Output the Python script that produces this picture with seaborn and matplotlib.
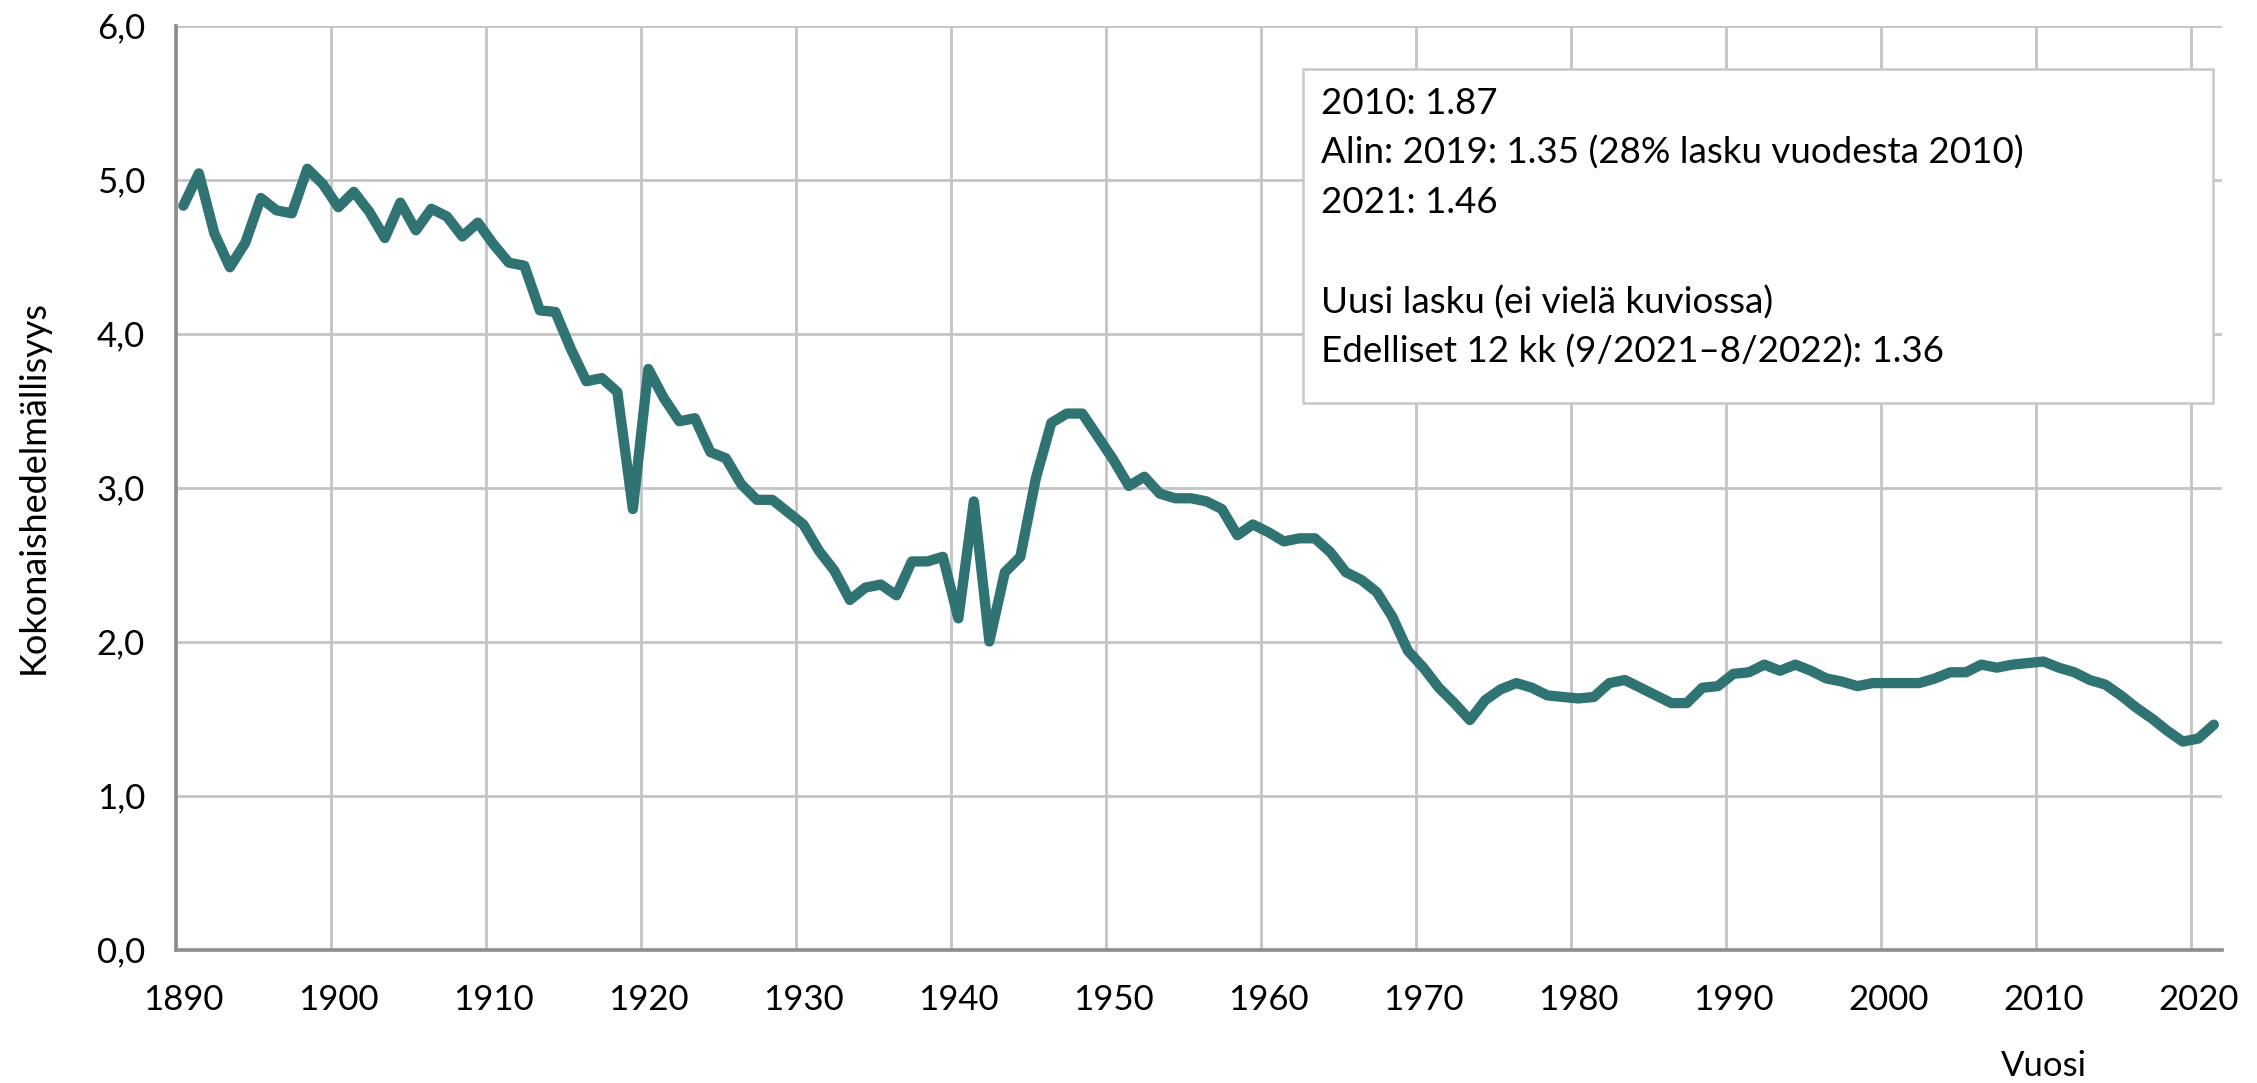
import numpy as np
import pandas as pd
import matplotlib
matplotlib.use("Agg")
import matplotlib.pyplot as plt
import seaborn as sns
from matplotlib.patches import Rectangle

# ---- data ----
start_year = 1890
tfr_1890s = [4.83, 5.04, 4.65, 4.43, 4.59, 4.88, 4.80, 4.78, 5.07, 4.97]
tfr_1900s = [4.82, 4.92, 4.79, 4.62, 4.85, 4.67, 4.81, 4.76, 4.63, 4.72]
tfr_1910s = [4.58, 4.46, 4.44, 4.15, 4.14, 3.90, 3.69, 3.71, 3.62, 2.86]
tfr_1920s = [3.77, 3.58, 3.43, 3.45, 3.23, 3.19, 3.02, 2.92, 2.92, 2.84]
tfr_1930s = [2.76, 2.59, 2.46, 2.27, 2.35, 2.37, 2.30, 2.52, 2.52, 2.55]
tfr_1940s = [2.15, 2.91, 2.00, 2.45, 2.55, 3.06, 3.42, 3.48, 3.48, 3.33]
tfr_1950s = [3.18, 3.01, 3.07, 2.96, 2.93, 2.93, 2.91, 2.86, 2.69, 2.76]
tfr_1960s = [2.71, 2.65, 2.67, 2.67, 2.58, 2.45, 2.40, 2.32, 2.16, 1.94]
tfr_1970s = [1.83, 1.70, 1.60, 1.49, 1.62, 1.69, 1.73, 1.70, 1.65, 1.64]
tfr_1980s = [1.63, 1.64, 1.73, 1.75, 1.70, 1.65, 1.60, 1.60, 1.70, 1.71]
tfr_1990s = [1.79, 1.80, 1.85, 1.81, 1.85, 1.81, 1.76, 1.74, 1.71, 1.73]
tfr_2000s = [1.73, 1.73, 1.73, 1.76, 1.80, 1.80, 1.85, 1.83, 1.85, 1.86]
tfr_2010s = [1.87, 1.83, 1.80, 1.75, 1.72, 1.65, 1.57, 1.50, 1.42, 1.35]
tfr_2020s = [1.37, 1.46]

tfr = (tfr_1890s + tfr_1900s + tfr_1910s + tfr_1920s + tfr_1930s + tfr_1940s
       + tfr_1950s + tfr_1960s + tfr_1970s + tfr_1980s + tfr_1990s
       + tfr_2000s + tfr_2010s + tfr_2020s)
years = np.arange(start_year, start_year + len(tfr))

decade_labels = ["1890", "1900", "1910", "1920", "1930", "1940", "1950",
                 "1960", "1970", "1980", "1990", "2000", "2010", "2020"]
y_tick_labels = ["0,0", "1,0", "2,0", "3,0", "4,0", "5,0", "6,0"]

box_lines = [
    "2010: 1.87",
    "Alin: 2019: 1.35 (28% lasku vuodesta 2010)",
    "2021: 1.46",
    "",
    "Uusi lasku (ei vielä kuviossa)",
    "Edelliset 12 kk (9/2021\u20138/2022): 1.36",
]

# ---- style ----
sns.set_theme(style="white")
plt.rcParams["font.family"] = ["Lato", "DejaVu Sans"]

W, H, DPI = 2257, 1083, 100
fig = plt.figure(figsize=(W / DPI, H / DPI), dpi=DPI)
ax_left, ax_right = 175.6, 2221.6
ax_top, ax_bottom = 25.5, 949.5
ax = fig.add_axes([ax_left / W, 1 - ax_bottom / H,
                   (ax_right - ax_left) / W, (ax_bottom - ax_top) / H])

# category-centred positions (Excel style: points between tick marks)
df = pd.DataFrame({"x": years + 0.5, "tfr": tfr})
line_color = "#307373"
sns.lineplot(data=df, x="x", y="tfr", ax=ax, color=line_color, linewidth=7.4,
             solid_joinstyle="round", solid_capstyle="round")

ax.set_xlim(1890, 2022)
ax.set_ylim(0, 6)

dec_pos = np.arange(1890, 2030, 10)
ax.set_xticks(dec_pos)
ax.set_xticklabels([])
ax.set_xticks(dec_pos + 0.5, minor=True)
ax.set_xticklabels(decade_labels, minor=True)
ax.set_yticks(np.arange(0, 7, 1))
ax.set_yticklabels(y_tick_labels)

grid_color = "#c4c4c4"
ax.grid(True, which="major", axis="both", color=grid_color, linewidth=2.0)
ax.set_axisbelow(True)

for side in ["top", "right"]:
    ax.spines[side].set_visible(False)
for side in ["left", "bottom"]:
    ax.spines[side].set_color("#8c8c8c")
    ax.spines[side].set_linewidth(2.6)

ax.tick_params(axis="y", which="major", direction="out", length=9, width=2.2,
               color="#8c8c8c", labelsize=25, pad=13, labelcolor="black")
ax.tick_params(axis="x", which="major", direction="in", length=6, width=2.0,
               color="#8c8c8c", labelbottom=False)
ax.tick_params(axis="x", which="minor", length=0, labelsize=25, pad=25,
               labelcolor="black")

ax.set_xlabel("")
ax.set_ylabel("")

# axis titles
fig.text(33 / W, 1 - 487 / H, "Kokonaishedelmällisyys", rotation=90,
         ha="center", va="center", fontsize=26, color="black")
fig.text(2044 / W, 1 - 1066 / H, "Vuosi", ha="center", va="center",
         fontsize=25, color="black")

# annotation box
bx0, bx1, by0, by1 = 1303, 2213, 69, 403
rect = Rectangle((bx0 / W, 1 - by1 / H), (bx1 - bx0) / W, (by1 - by0) / H,
                 transform=fig.transFigure, facecolor="white",
                 edgecolor="#c8c8c8", linewidth=1.8, zorder=5)
fig.patches.append(rect)
baselines = [114, 164, 213, 263, 314, 363]
for txt, yb in zip(box_lines, baselines):
    if txt:
        fig.text(1321 / W, 1 - yb / H, txt, ha="left", va="baseline",
                 fontsize=26.5, color="black", zorder=6)

fig.savefig("out.png", dpi=DPI)
